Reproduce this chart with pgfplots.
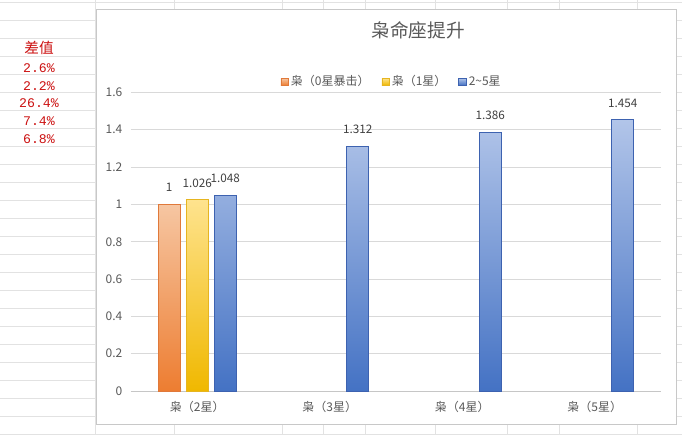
\documentclass[border=0pt]{standalone}
\usepackage{fontspec}
\setmainfont{Noto Sans CJK SC}
\newfontfamily\monofont{Liberation Mono}
\usepackage{pgfplots}
\pgfplotsset{compat=1.18}

\definecolor{txt}{HTML}{595959}
\definecolor{lbl}{HTML}{404040}
\definecolor{sheetgrid}{HTML}{E2E2E2}
\definecolor{chartborder}{HTML}{C8C8C8}
\definecolor{gridline}{HTML}{D9D9D9}
\definecolor{axisline}{HTML}{C6C6C6}
\definecolor{redtxt}{HTML}{CC1111}
\definecolor{orgtop}{HTML}{F6C6A2}
\definecolor{orgbot}{HTML}{ED7D31}
\definecolor{orgline}{HTML}{E0793A}
\definecolor{yeltop}{HTML}{FEE38E}
\definecolor{yelbot}{HTML}{F0B800}
\definecolor{yelline}{HTML}{E6B520}
\definecolor{blutop}{HTML}{B2C5E9}
\definecolor{blubot}{HTML}{4472C4}
\definecolor{bluline}{HTML}{3D62B0}

\begin{document}
\begin{tikzpicture}
% spreadsheet behind the chart, in screen pixels
\begin{scope}[x=0.75pt,y=-0.75pt]
\useasboundingbox (0,0) rectangle (682,435);
\fill[white] (0,0) rectangle (682,435);
\foreach \y in {2.3,20.3,...,434.3}
  \draw[sheetgrid, line width=0.75pt] (0,\y) -- (682,\y);
\foreach \x in {95,174,282,323,365,435,507,559,637}
  \draw[sheetgrid, line width=0.75pt] (\x,0) -- (\x,435);
\draw[chartborder, line width=0.75pt, fill=white] (96.5,9.5) rectangle (676,424);
% difference column
\node[text=redtxt, font=\fontsize{11}{12}\selectfont] at (39,47.5) {差值};
\begin{scope}[every node/.style={text=redtxt, font=\monofont\fontsize{9.9}{11}\selectfont}]
\node at (39,68) {2.6\%};
\node at (39,86) {2.2\%};
\node at (39,103.5) {26.4\%};
\node at (39,121) {7.4\%};
\node at (39,139) {6.8\%};
\end{scope}
\node[text=txt, font=\fontsize{14}{16}\selectfont] at (418,30.7) {枭命座提升};
\end{scope}

\begin{axis}[
    at={(98.25pt,-293.25pt)}, anchor=south west,
    width=397.5pt, height=223.9pt, scale only axis,
    xmin=-0.5, xmax=3.5, ymin=0, ymax=1.6,
    xtick={0,1,2,3},
    xticklabels={枭（2星）,枭（3星）,枭（4星）,枭（5星）},
    ytick={0,0.2,0.4,0.6,0.8,1,1.2,1.4,1.6},
    ymajorgrids, grid style={color=gridline, line width=0.75pt},
    axis x line*=bottom, axis y line*=left,
    y axis line style={draw=none},
    x axis line style={draw=axisline, line width=0.75pt, -},
    major tick length=0pt,
    tick label style={font=\fontsize{9}{10}\selectfont, text=txt},
    yticklabel style={xshift=-3pt},
    xticklabel style={yshift=-4.5pt},
    /pgf/number format/assume math mode=true,
    bar width=16.5pt,
    nodes near coords={\pgfmathprintnumber[precision=3]{\pgfplotspointmeta}},
    every node near coord/.append style={font=\fontsize{8.8}{10}\selectfont,
        text=lbl, anchor=center, yshift=12.5pt},
    legend columns=3,
    legend style={at={(0.4925,1.036)}, anchor=center, draw=none, fill=none,
        font=\fontsize{9}{10}\selectfont, text=txt,
        /tikz/every even column/.append style={column sep=7pt}},
    legend image code/.code={\draw[#1] (0pt,-2.6pt) rectangle (5.3pt,2.6pt);},
]
\addplot[ybar, bar shift=-21pt, draw=orgline, top color=orgtop, bottom color=orgbot,
    every node near coord/.append style={xshift=-21pt}]
  coordinates {(0,1)};
\addplot[ybar, bar shift=0pt, draw=yelline, top color=yeltop, bottom color=yelbot]
  coordinates {(0,1.026)};
\addplot[ybar, bar shift=21pt, draw=bluline, top color=blutop, bottom color=blubot,
    every node near coord/.append style={xshift=21pt}]
  coordinates {(0,1.048) (1,1.312) (2,1.386) (3,1.454)};
\legend{枭（0星暴击）,枭（1星）,2\symbol{126}5星}
\end{axis}
\end{tikzpicture}
\end{document}
